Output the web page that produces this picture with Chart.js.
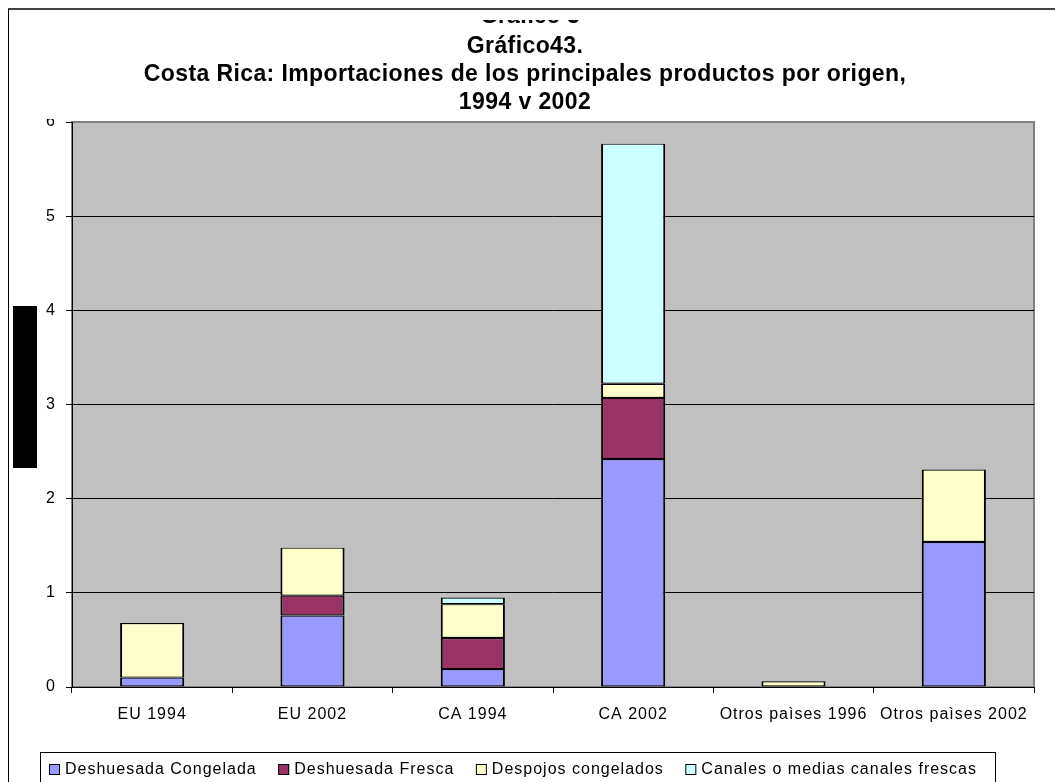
<!DOCTYPE html>
<html>
<head>
<meta charset="utf-8">
<script src="https://cdn.jsdelivr.net/npm/chart.js@4"></script>
<style>
    html, body { margin: 0; padding: 0; background: #fff; }
    #wrap { width: 1055px; height: 782px; }
</style>
</head>
<body>
<div id="wrap"><canvas id="chart" width="1055" height="782"></canvas></div>
<script>
// ---- Categorías (eje x) ----
const categories = ['EU 1994', 'EU 2002', 'CA 1994', 'CA 2002', 'Otros paìses 1996', 'Otros paìses 2002'];

// ---- Series (null = sin barra) ----
const deshuesadaCongelada = [0.10, 0.76, 0.19, 2.42, null, 1.54];
const deshuesadaFresca    = [null, 0.21, 0.33, 0.65, null, null];
const despojosCongelados  = [0.58, 0.51, 0.36, 0.15, 0.06, 0.77];
const canalesFrescas      = [null, null, 0.07, 2.55, null, null];

// ---- Eje y ----
const yMin = 0;
const yMax = 6;
const yStep = 1;

const titleLines = [
    'Gráfico43.',
    'Costa Rica: Importaciones de los principales productos por origen,',
    '1994 v 2002'
];

const FONT = '"Liberation Sans", Arial, sans-serif';

const COLORS = {
    congelada: '#9999FF',
    fresca: '#993366',
    despojos: '#FFFFCC',
    canales: '#CCFFFF',
    plot: '#C0C0C0'
};

// fondo, marco, título y leyenda (estilo Excel)
const framePlugin = {
    id: 'frame',
    beforeDraw(chart) {
        const ctx = chart.ctx;
        const a = chart.chartArea;
        ctx.save();
        ctx.fillStyle = '#fff';
        ctx.fillRect(0, 0, chart.width, chart.height);
        // marco exterior
        ctx.fillStyle = '#404040';
        ctx.fillRect(8, 8, chart.width - 8, 2);
        ctx.fillStyle = '#000';
        ctx.fillRect(8, 9, 1, chart.height - 9);
        // área de trazado
        ctx.fillStyle = COLORS.plot;
        ctx.fillRect(a.left, a.top, a.right - a.left, a.bottom - a.top);
        ctx.strokeStyle = '#808080';
        ctx.lineWidth = 2;
        ctx.strokeRect(a.left, a.top, a.right - a.left, a.bottom - a.top);
        ctx.restore();
        ctx.letterSpacing = '1px';   // texto algo espaciado como en el original
    },
    afterDraw(chart) {
        const ctx = chart.ctx;
        ctx.save();
        ctx.letterSpacing = '0px';

        // "6" cortado por arriba
        ctx.fillStyle = '#fff';
        ctx.fillRect(38, 106, 26, 13);

        // título oculto casi del todo
        ctx.save();
        ctx.beginPath();
        ctx.rect(0, 20, chart.width, 3);
        ctx.clip();
        ctx.fillStyle = '#000';
        ctx.font = 'bold 23px ' + FONT;
        ctx.textAlign = 'center';
        ctx.textBaseline = 'alphabetic';
        ctx.fillText('Gráfico 3', 530, 23);
        ctx.restore();

        // título
        ctx.fillStyle = '#000';
        ctx.font = 'bold 23px ' + FONT;
        ctx.letterSpacing = '0.4px';
        ctx.textAlign = 'center';
        ctx.textBaseline = 'middle';
        titleLines.forEach((t, i) => ctx.fillText(t, 525, 47 + i * 28));
        ctx.letterSpacing = '0px';

        // rectángulo negro a la izquierda
        ctx.fillRect(13, 306, 24, 162);

        // leyenda
        ctx.strokeStyle = '#000';
        ctx.lineWidth = 1;
        ctx.strokeRect(40.5, 752.5, 955, 60);

        ctx.font = '16px ' + FONT;
        ctx.letterSpacing = '1px';
        ctx.textAlign = 'left';
        const items = chart.data.datasets.map(ds => ({ label: ds.label, color: ds.backgroundColor }));
        const box = 11, gap = 5, x0 = 49, x1 = 977;
        const widths = items.map(it => ctx.measureText(it.label).width);
        const used = widths.reduce((s, w) => s + box + gap + w, 0);
        const space = (x1 - x0 - used) / (items.length - 1);
        let x = x0;
        items.forEach((it, i) => {
            ctx.fillStyle = it.color;
            ctx.fillRect(x, 764, box, box);
            ctx.strokeRect(x + 0.5, 764.5, box - 1, box - 1);
            ctx.fillStyle = '#000';
            ctx.fillText(it.label, x + box + gap, 769.5);
            x += box + gap + widths[i] + space;
        });
        ctx.restore();
    }
};

const barStyle = {
    borderColor: '#000',
    borderWidth: { top: 1.2, bottom: 1.2, left: 2, right: 2 },
    borderSkipped: false
};

const data = {
    labels: categories,
    datasets: [
        { label: 'Deshuesada Congelada', data: deshuesadaCongelada, backgroundColor: COLORS.congelada, ...barStyle },
        { label: 'Deshuesada Fresca', data: deshuesadaFresca, backgroundColor: COLORS.fresca, ...barStyle },
        { label: 'Despojos congelados', data: despojosCongelados, backgroundColor: COLORS.despojos, ...barStyle },
        { label: 'Canales o medias canales frescas', data: canalesFrescas, backgroundColor: COLORS.canales, ...barStyle }
    ]
};

const config = {
    type: 'bar',
    data: data,
    options: {
        responsive: false,
        animation: false,
        layout: { padding: { top: 122, right: 21, left: 0, bottom: 0 } },
        datasets: { bar: { categoryPercentage: 1, barPercentage: 0.4 } },
        plugins: {
            legend: { display: false },
            title: { display: false },
            tooltip: { enabled: false }
        },
        scales: {
            x: {
                stacked: true,
                grid: { offset: true, drawOnChartArea: false, tickLength: 6, color: '#000' },
                border: { color: '#000', width: 1 },
                ticks: {
                    color: '#000',
                    font: { family: FONT, size: 16 },
                    padding: 12,
                    maxRotation: 0,
                    autoSkip: false
                },
                afterFit(scale) { scale.height = 95; }
            },
            y: {
                stacked: true,
                min: yMin,
                max: yMax,
                ticks: {
                    stepSize: yStep,
                    color: '#000',
                    font: { family: FONT, size: 16 },
                    padding: 10
                },
                grid: {
                    color: (c) => c.tick && c.tick.value === yMax ? '#808080' : '#000',
                    tickColor: '#000',
                    tickLength: 6
                },
                border: { color: '#000', width: 1 },
                afterFit(scale) { scale.width = 72; }
            }
        }
    },
    plugins: [framePlugin]
};

const ctx = document.getElementById('chart').getContext('2d');
new Chart(ctx, config);
</script>
</body>
</html>
